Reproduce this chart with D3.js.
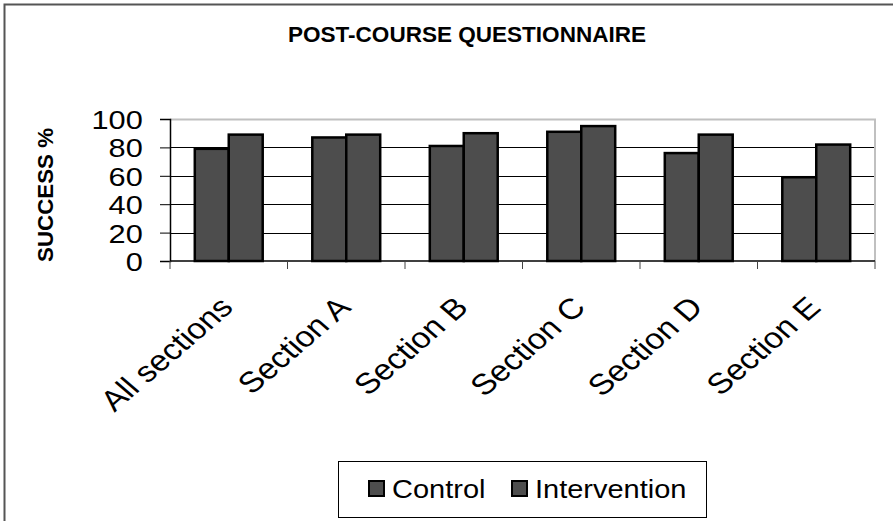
<!DOCTYPE html>
<html>
<head>
<meta charset="utf-8">
<script src="https://cdn.jsdelivr.net/npm/d3@7"></script>
<style>
  body { margin: 0; background: #fff; }
  text { font-family: "Liberation Sans", Arial, sans-serif; fill: #000; }
</style>
</head>
<body>
<svg id="chart" width="893" height="521"></svg>
<script>
// data
let categories = ["All sections", "Section A", "Section B", "Section C", "Section D", "Section E"];
let series = ["Control", "Intervention"];
let control = [79, 87, 81, 91, 76, 59];
let intervention = [89, 89, 90, 95, 89, 82];
let yTicks = [0, 20, 40, 60, 80, 100];

let rows = categories.map((c, i) => ({ cat: c, Control: control[i], Intervention: intervention[i] }));

let svg = d3.select("#chart");
let sx = 1.16; // the original picture is a bit stretched sideways

// outer frame (right and bottom edges fall outside the picture)
svg.append("rect")
    .attr("x", 4.5).attr("y", 4.5)
    .attr("width", 900).attr("height", 530)
    .attr("fill", "none")
    .attr("stroke", "#555")
    .attr("stroke-width", 2);

let plotL = 170, plotR = 875, plotT = 119, plotB = 261;

let x0 = d3.scaleBand().domain(categories).range([plotL, plotR]).padding(0);
let x1 = d3.scaleBand().domain(series).range([0, x0.bandwidth()]).paddingInner(0).paddingOuter(0.73);
let y = d3.scaleLinear().domain([0, 100]).range([plotB, plotT]);

// gridlines
svg.append("g")
  .selectAll("line")
  .data(yTicks.filter(d => d > 0 && d < 100))
  .enter().append("line")
    .attr("x1", plotL).attr("x2", plotR)
    .attr("y1", d => Math.round(y(d)) + 0.5)
    .attr("y2", d => Math.round(y(d)) + 0.5)
    .attr("stroke", "#000")
    .attr("stroke-width", 1);

// plot area top / right edge
svg.append("path")
    .attr("d", "M" + plotL + "," + (plotT + 0.5) + "H" + plotR + "V" + plotB)
    .attr("fill", "none")
    .attr("stroke", "#c0c0c0")
    .attr("stroke-width", 2);

// bars
svg.append("g")
  .selectAll("g")
  .data(rows)
  .enter().append("g")
    .attr("transform", d => "translate(" + x0(d.cat) + ",0)")
  .selectAll("rect")
  .data(d => series.map(s => ({ key: s, value: d[s] })))
  .enter().append("rect")
    .attr("x", d => x1(d.key))
    .attr("y", d => y(d.value))
    .attr("width", x1.bandwidth())
    .attr("height", d => y(0) - y(d.value))
    .attr("fill", "#4d4d4d")
    .attr("stroke", "#000")
    .attr("stroke-width", 2.5);

// y axis
let yAxis = svg.append("g")
    .attr("transform", "translate(" + plotL + ",0)")
    .call(d3.axisLeft(y).tickValues(yTicks).tickSize(10).tickPadding(13.5));
yAxis.select(".domain").attr("stroke", "#000").attr("stroke-width", 1.5);
yAxis.selectAll(".tick line").attr("stroke", "#000");
yAxis.selectAll(".tick text")
    .style("font-size", "26.5px")
    .attr("dy", "0.36em")
    .attr("transform", "scale(" + sx + ",1)");

// x axis
let xAxis = svg.append("g")
    .attr("transform", "translate(0," + plotB + ")");
xAxis.append("line")
    .attr("x1", plotL).attr("x2", plotR)
    .attr("stroke", "#000").attr("stroke-width", 1.5);
xAxis.selectAll(".xtick")
  .data(categories.concat(["end"]))
  .enter().append("line")
    .attr("x1", (d, i) => i < categories.length ? x0(d) : plotR)
    .attr("x2", (d, i) => i < categories.length ? x0(d) : plotR)
    .attr("y1", 0).attr("y2", 8)
    .attr("stroke", "#444");
xAxis.selectAll(".xlabel")
  .data(categories)
  .enter().append("text")
    .attr("text-anchor", "end")
    .style("font-size", "29px")
    .attr("transform", d => "translate(" + (x0(d) + x0.bandwidth() / 2 + 6) + ",48) scale(" + sx + ",1) rotate(-45)")
    .text(d => d);

// titles
svg.append("text")
    .attr("x", 467).attr("y", 42)
    .attr("text-anchor", "middle")
    .attr("textLength", 358)
    .attr("lengthAdjust", "spacingAndGlyphs")
    .style("font-size", "22px")
    .style("font-weight", "bold")
    .text("POST-COURSE QUESTIONNAIRE");

svg.append("text")
    .attr("text-anchor", "middle")
    .attr("transform", "translate(53,195) scale(" + sx + ",1) rotate(-90)")
    .attr("textLength", 134)
    .attr("lengthAdjust", "spacingAndGlyphs")
    .style("font-size", "19px")
    .style("font-weight", "bold")
    .text("SUCCESS %");

// legend
let legend = svg.append("g");
legend.append("rect")
    .attr("x", 338.5).attr("y", 461.5)
    .attr("width", 368).attr("height", 56)
    .attr("fill", "#fff")
    .attr("stroke", "#000");
let legendX = [369, 512];
let items = legend.selectAll(".item")
  .data(series)
  .enter().append("g")
    .attr("transform", (d, i) => "translate(" + legendX[i] + ",481)");
items.append("rect")
    .attr("width", 15).attr("height", 15)
    .attr("fill", "#4d4d4d")
    .attr("stroke", "#000")
    .attr("stroke-width", 2);
items.append("text")
    .attr("transform", "translate(23,17) scale(" + sx + ",1)")
    .style("font-size", "25px")
    .text(d => d);
</script>
</body>
</html>
